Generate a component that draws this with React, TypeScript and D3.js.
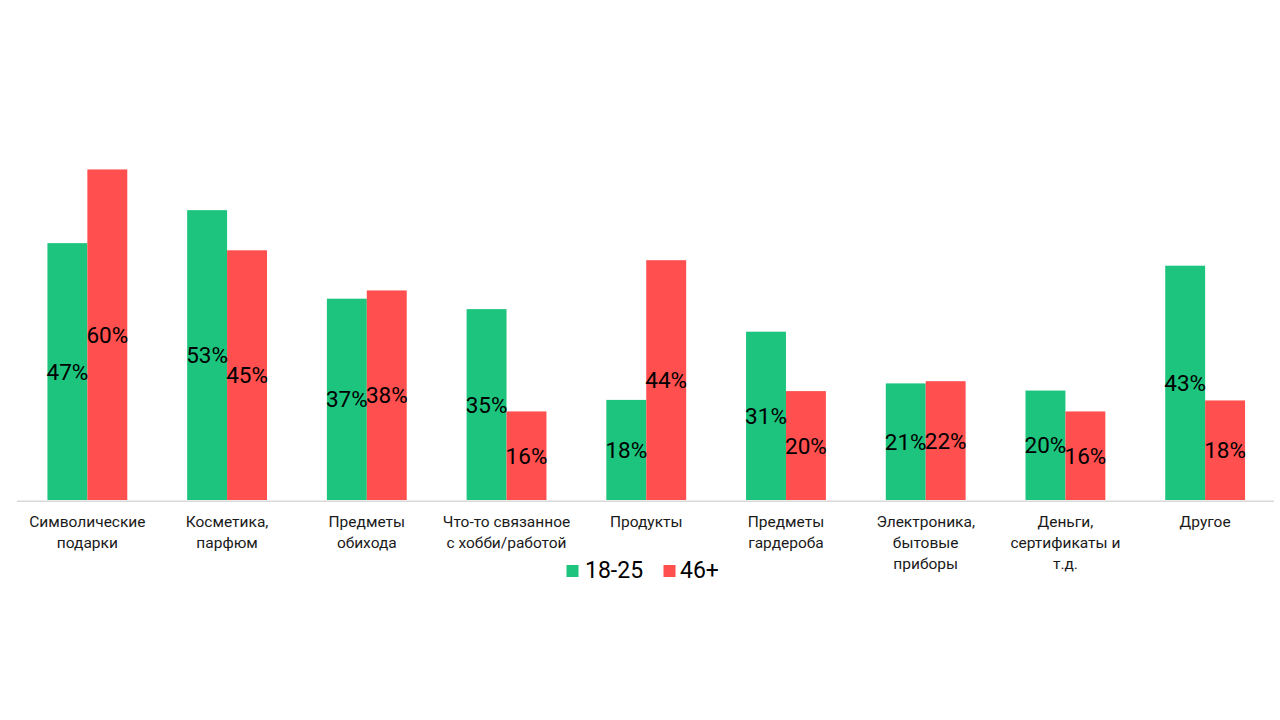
import React from "react";
import * as d3 from "d3";

const categories: string[][] = [
  ["Символические", "подарки"],
  ["Косметика,", "парфюм"],
  ["Предметы", "обихода"],
  ["Что-то связанное", "с хобби/работой"],
  ["Продукты"],
  ["Предметы", "гардероба"],
  ["Электроника,", "бытовые", "приборы"],
  ["Деньги,", "сертификаты и", "т.д."],
  ["Другое"],
];

const seriesNames = ["18-25", "46+"];
const values1825 = [46.7, 52.7, 36.6, 34.7, 18.2, 30.6, 21.2, 19.9, 42.6];
const values46 = [60.1, 45.4, 38.1, 16.1, 43.6, 19.8, 21.6, 16.1, 18.1];
const colors = ["#1dc47e", "#ff4f4f"];

const W = 1280;
const H = 720;
const FONT = "Roboto, 'Noto Sans', sans-serif";

export default function App() {
  const x0 = d3
    .scaleBand<number>()
    .domain(d3.range(categories.length))
    .range([17.5, 1275])
    .paddingInner(3 / 7)
    .paddingOuter(3 / 14);
  const x1 = d3
    .scaleBand<string>()
    .domain(seriesNames)
    .range([0, x0.bandwidth()]);
  const y = d3.scaleLinear().domain([0, 60]).range([500, 170]);

  const series = [values1825, values46];

  return (
    <div style={{ position: "fixed", left: 0, top: 0, width: W, height: H, background: "#fff" }}>
      <svg width={W} height={H} style={{ display: "block", fontFamily: FONT }}>
        <rect x={0} y={0} width={W} height={H} fill="#fff" />
        {categories.map((cat, i) => (
          <g key={i} transform={`translate(${x0(i)},0)`}>
            {series.map((vals, s) => (
              <rect
                key={s}
                x={x1(seriesNames[s])}
                y={y(vals[i])}
                width={x1.bandwidth()}
                height={y(0) - y(vals[i])}
                fill={colors[s]}
              />
            ))}
          </g>
        ))}
        <line x1={17} x2={1274} y1={501.3} y2={501.3} stroke="#d9d9d9" strokeWidth={1.5} />
        {categories.map((cat, i) =>
          series.map((vals, s) => (
            <text
              key={`l${i}-${s}`}
              x={(x0(i) as number) + (x1(seriesNames[s]) as number) + x1.bandwidth() / 2}
              y={(y(vals[i]) + y(0)) / 2}
              textAnchor="middle"
              dominantBaseline="central"
              fontSize={22.5}
              fill="#000"
            >
              {`${Math.round(vals[i])}%`}
            </text>
          ))
        )}
        {categories.map((lines, i) => (
          <text
            key={`c${i}`}
            x={(x0(i) as number) + x0.bandwidth() / 2}
            y={527}
            textAnchor="middle"
            fontSize={15.5}
            fill="#1a1a1a"
          >
            {lines.map((ln, j) => (
              <tspan key={j} x={(x0(i) as number) + x0.bandwidth() / 2} dy={j === 0 ? 0 : 21}>
                {ln}
              </tspan>
            ))}
          </text>
        ))}
        <g>
          <rect x={566.5} y={565} width={12} height={12} fill={colors[0]} />
          <text x={585} y={577.5} fontSize={23} fill="#000">
            {seriesNames[0]}
          </text>
          <rect x={663.5} y={565} width={12} height={12} fill={colors[1]} />
          <text x={680} y={577.5} fontSize={23} fill="#000">
            {seriesNames[1]}
          </text>
        </g>
      </svg>
    </div>
  );
}
